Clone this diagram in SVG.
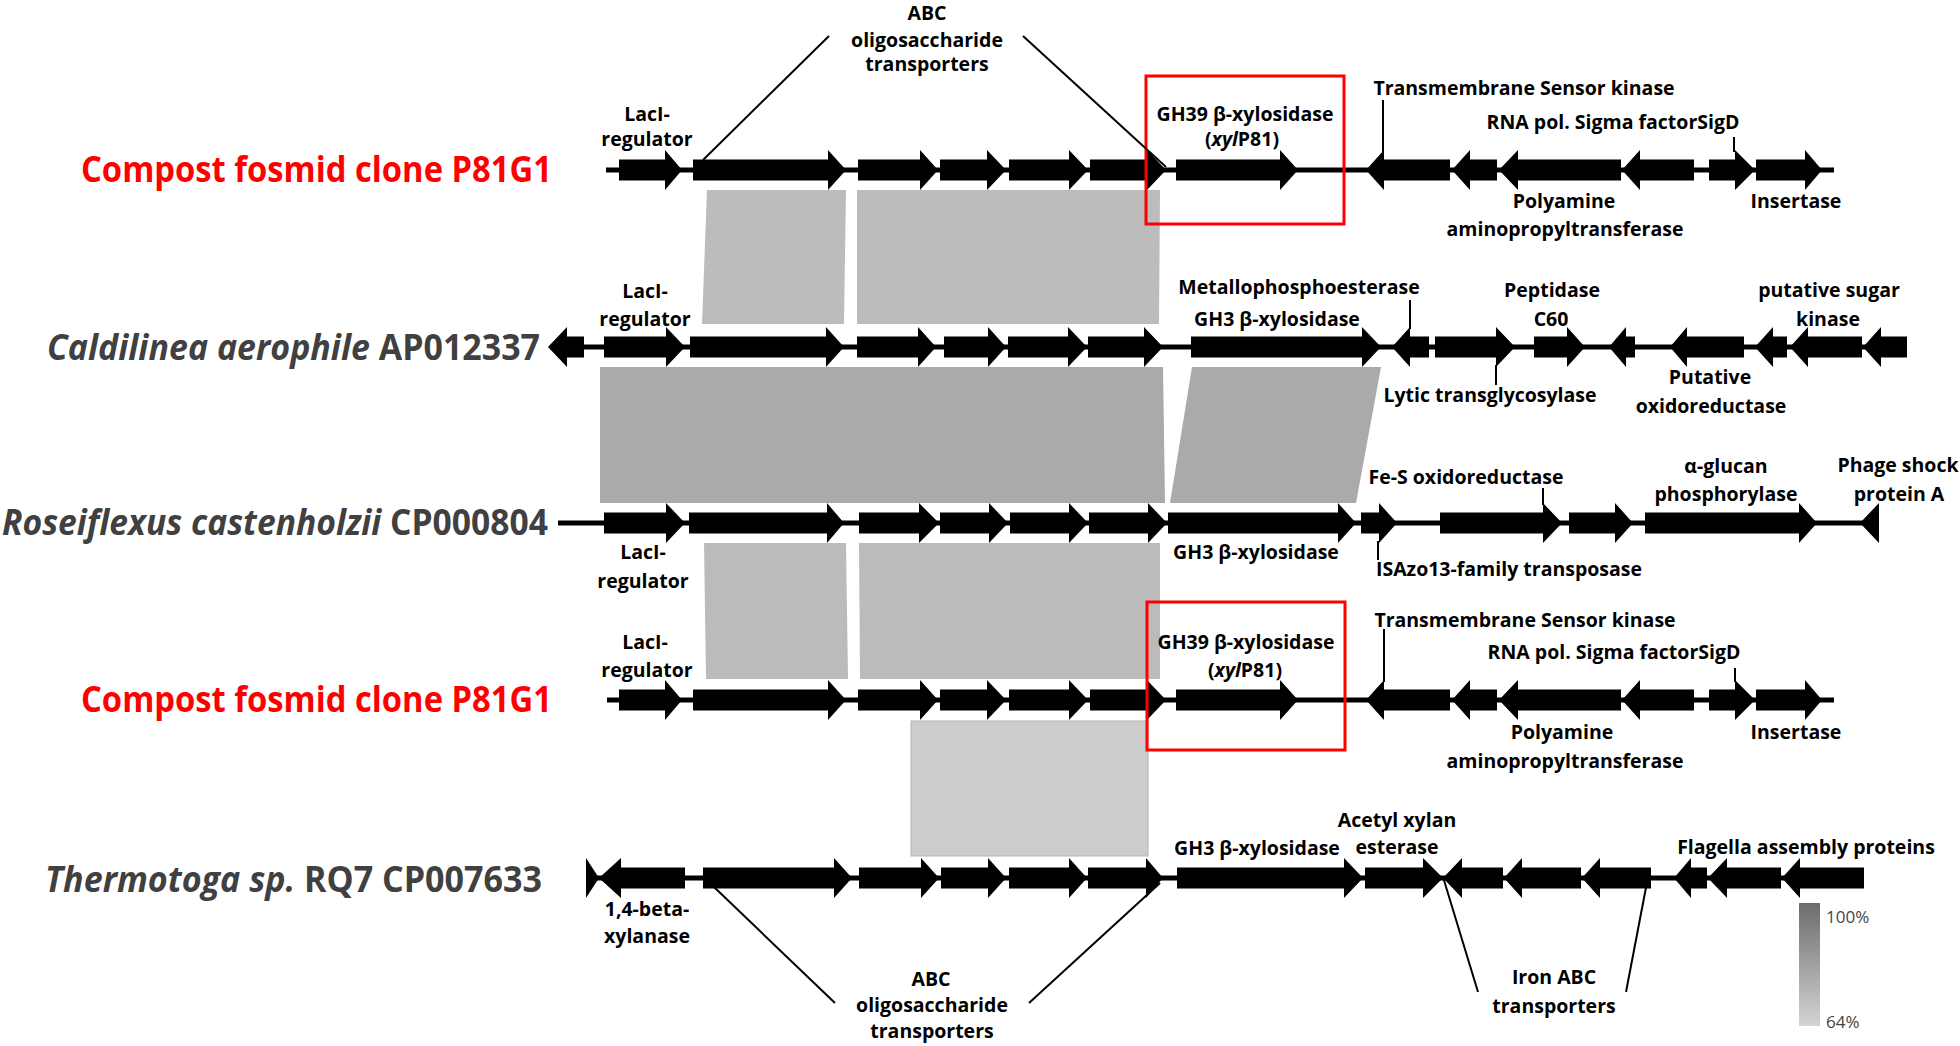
<svg xmlns="http://www.w3.org/2000/svg" width="1960" height="1046" viewBox="0 0 1960 1046">
<defs>
<style>
.g{fill:#000}
.bb{stroke:#000;stroke-width:5;fill:none}
.ptr{stroke:#000;stroke-width:2;fill:none}
.lbl{font-family:'Open Sans','Liberation Sans',sans-serif;font-weight:bold;font-size:19.5px;fill:#000;text-anchor:middle}
.sp{font-family:'Open Sans','Liberation Sans',sans-serif;font-weight:bold;font-size:35px;text-anchor:end}
.red{fill:#ff0000}
.dark{fill:#404040}
.box{fill:none;stroke:#ff0000;stroke-width:3}
.pct{font-family:'Open Sans','Liberation Sans',sans-serif;font-size:17px;fill:#444}
</style>
<linearGradient id="scale" x1="0" y1="0" x2="0" y2="1">
<stop offset="0" stop-color="#6c6c6c"/>
<stop offset="1" stop-color="#d4d4d4"/>
</linearGradient>
</defs>
<rect width="1960" height="1046" fill="#fff"/>

<g id="homology">
<polygon points="707,190 846,190 844,324 702,324" fill="#bcbcbc"/>
<polygon points="857,190 1160,190 1159,324 857,324" fill="#bcbcbc"/>
<polygon points="600,367 1163,367 1165,503 600,503" fill="#aaaaaa"/>
<polygon points="1192,367 1381,367 1356,503 1170,503" fill="#aaaaaa"/>
<polygon points="704,543 846,543 848,679 706,679" fill="#bbbbbb"/>
<polygon points="859,543 1160,543 1160,679 860,679" fill="#bbbbbb"/>
<rect x="911" y="721" width="237" height="135" fill="#cccccc" stroke="#b4b4b4" stroke-width="1"/>
</g>

<g id="track1" transform="translate(0,170)">
<line class="bb" x1="606" y1="0" x2="1834" y2="0"/>
<path class="g" d="M619,-10.5H665V-20L682,0L665,20V10.5H619Z"/>
<path class="g" d="M693,-10.5H828V-20L846,0L828,20V10.5H693Z"/>
<path class="g" d="M858,-10.5H920V-20L938,0L920,20V10.5H858Z"/>
<path class="g" d="M940,-10.5H987V-20L1006,0L987,20V10.5H940Z"/>
<path class="g" d="M1009,-10.5H1069V-20L1088,0L1069,20V10.5H1009Z"/>
<path class="g" d="M1090,-10.5H1147V-20L1166,0L1147,20V10.5H1090Z"/>
<path class="g" d="M1176,-10.5H1280V-20L1298,0L1280,20V10.5H1176Z"/>
<path class="g" d="M1366,0L1384,-20V-10.5H1450V10.5H1384V20Z"/>
<path class="g" d="M1452,0L1470,-20V-10.5H1497V10.5H1470V20Z"/>
<path class="g" d="M1499,0L1518,-20V-10.5H1621V10.5H1518V20Z"/>
<path class="g" d="M1622,0L1640,-20V-10.5H1694V10.5H1640V20Z"/>
<path class="g" d="M1709,-10.5H1735V-20L1755,0L1735,20V10.5H1709Z"/>
<path class="g" d="M1756,-10.5H1805V-20L1822,0L1805,20V10.5H1756Z"/>
</g>

<g id="track2" transform="translate(0,347)">
<line class="bb" x1="550" y1="0" x2="1905" y2="0"/>
<path class="g" d="M548,0L567,-20V-10.5H584V10.5H567V20Z"/>
<path class="g" d="M604,-10.5H666V-20L685,0L666,20V10.5H604Z"/>
<path class="g" d="M690,-10.5H826V-20L844,0L826,20V10.5H690Z"/>
<path class="g" d="M857,-10.5H918V-20L936,0L918,20V10.5H857Z"/>
<path class="g" d="M944,-10.5H988V-20L1006,0L988,20V10.5H944Z"/>
<path class="g" d="M1008,-10.5H1068V-20L1087,0L1068,20V10.5H1008Z"/>
<path class="g" d="M1088,-10.5H1144V-20L1163,0L1144,20V10.5H1088Z"/>
<path class="g" d="M1191,-10.5H1362V-20L1381,0L1362,20V10.5H1191Z"/>
<path class="g" d="M1392,0L1410,-20V-10.5H1429V10.5H1410V20Z"/>
<path class="g" d="M1435,-10.5H1496V-20L1515,0L1496,20V10.5H1435Z"/>
<path class="g" d="M1534,-10.5H1567V-20L1585,0L1567,20V10.5H1534Z"/>
<path class="g" d="M1609,0L1626,-20V-10.5H1635V10.5H1626V20Z"/>
<path class="g" d="M1670,0L1687,-20V-10.5H1744V10.5H1687V20Z"/>
<path class="g" d="M1755,0L1773,-20V-10.5H1787V10.5H1773V20Z"/>
<path class="g" d="M1790,0L1808,-20V-10.5H1862V10.5H1808V20Z"/>
<path class="g" d="M1863,0L1881,-20V-10.5H1907V10.5H1881V20Z"/>
</g>

<g id="track3" transform="translate(0,523)">
<line class="bb" x1="558" y1="0" x2="1878" y2="0"/>
<path class="g" d="M604,-10.5H666V-20L685,0L666,20V10.5H604Z"/>
<path class="g" d="M689,-10.5H827V-20L844,0L827,20V10.5H689Z"/>
<path class="g" d="M859,-10.5H919V-20L939,0L919,20V10.5H859Z"/>
<path class="g" d="M940,-10.5H989V-20L1008,0L989,20V10.5H940Z"/>
<path class="g" d="M1010,-10.5H1069V-20L1088,0L1069,20V10.5H1010Z"/>
<path class="g" d="M1089,-10.5H1148V-20L1167,0L1148,20V10.5H1089Z"/>
<path class="g" d="M1168,-10.5H1338V-20L1356,0L1338,20V10.5H1168Z"/>
<path class="g" d="M1361,-10.5H1379V-20L1397,0L1379,20V10.5H1361Z"/>
<path class="g" d="M1440,-10.5H1543V-20L1562,0L1543,20V10.5H1440Z"/>
<path class="g" d="M1569,-10.5H1615V-20L1633,0L1615,20V10.5H1569Z"/>
<path class="g" d="M1645,-10.5H1799V-20L1817,0L1799,20V10.5H1645Z"/>
<path class="g" d="M1860,0L1879,-20V20Z"/>
</g>

<g id="track4" transform="translate(0,700)">
<line class="bb" x1="607" y1="0" x2="1834" y2="0"/>
<path class="g" d="M619,-10.5H665V-20L682,0L665,20V10.5H619Z"/>
<path class="g" d="M693,-10.5H828V-20L846,0L828,20V10.5H693Z"/>
<path class="g" d="M858,-10.5H920V-20L938,0L920,20V10.5H858Z"/>
<path class="g" d="M940,-10.5H987V-20L1006,0L987,20V10.5H940Z"/>
<path class="g" d="M1009,-10.5H1069V-20L1088,0L1069,20V10.5H1009Z"/>
<path class="g" d="M1090,-10.5H1147V-20L1166,0L1147,20V10.5H1090Z"/>
<path class="g" d="M1176,-10.5H1280V-20L1298,0L1280,20V10.5H1176Z"/>
<path class="g" d="M1366,0L1384,-20V-10.5H1450V10.5H1384V20Z"/>
<path class="g" d="M1452,0L1470,-20V-10.5H1497V10.5H1470V20Z"/>
<path class="g" d="M1499,0L1518,-20V-10.5H1621V10.5H1518V20Z"/>
<path class="g" d="M1622,0L1640,-20V-10.5H1694V10.5H1640V20Z"/>
<path class="g" d="M1709,-10.5H1735V-20L1755,0L1735,20V10.5H1709Z"/>
<path class="g" d="M1756,-10.5H1805V-20L1822,0L1805,20V10.5H1756Z"/>
</g>

<g id="track5" transform="translate(0,878)">
<line class="bb" x1="590" y1="0" x2="1862" y2="0"/>
<path class="g" d="M586,-20V20L599,0Z"/>
<path class="g" d="M599,0L621,-20V-10.5H685V10.5H621V20Z"/>
<path class="g" d="M703,-10.5H834V-20L852,0L834,20V10.5H703Z"/>
<path class="g" d="M859,-10.5H921V-20L939,0L921,20V10.5H859Z"/>
<path class="g" d="M941,-10.5H988V-20L1006,0L988,20V10.5H941Z"/>
<path class="g" d="M1009,-10.5H1069V-20L1087,0L1069,20V10.5H1009Z"/>
<path class="g" d="M1088,-10.5H1146V-20L1163,0L1146,20V10.5H1088Z"/>
<path class="g" d="M1177,-10.5H1344V-20L1363,0L1344,20V10.5H1177Z"/>
<path class="g" d="M1365,-10.5H1423V-20L1443,0L1423,20V10.5H1365Z"/>
<path class="g" d="M1443,0L1462,-20V-10.5H1503V10.5H1462V20Z"/>
<path class="g" d="M1504,0L1522,-20V-10.5H1581V10.5H1522V20Z"/>
<path class="g" d="M1582,0L1600,-20V-10.5H1651V10.5H1600V20Z"/>
<path class="g" d="M1674,0L1691,-20V-10.5H1707V10.5H1691V20Z"/>
<path class="g" d="M1708,0L1727,-20V-10.5H1781V10.5H1727V20Z"/>
<path class="g" d="M1782,0L1800,-20V-10.5H1864V10.5H1800V20Z"/>
</g>

<g id="highlights">
<rect class="box" x="1146" y="76" width="198" height="148"/>
<rect class="box" x="1147" y="602" width="198" height="148"/>
</g>

<g id="connectors">
<line class="ptr" x1="703" y1="160" x2="829" y2="36"/>
<line class="ptr" x1="1023" y1="36" x2="1166" y2="167"/>
<line class="ptr" x1="1383" y1="100" x2="1383" y2="152"/>
<line class="ptr" x1="1734" y1="137" x2="1734" y2="152"/>
<line class="ptr" x1="1410" y1="300" x2="1410" y2="329"/>
<line class="ptr" x1="1496" y1="365" x2="1496" y2="385"/>
<line class="ptr" x1="1543" y1="488" x2="1543" y2="505"/>
<line class="ptr" x1="1378" y1="541" x2="1378" y2="560"/>
<line class="ptr" x1="1384" y1="629" x2="1384" y2="682"/>
<line class="ptr" x1="1735" y1="668" x2="1735" y2="682"/>
<line class="ptr" x1="714" y1="887" x2="835" y2="1003"/>
<line class="ptr" x1="1029" y1="1003" x2="1160" y2="883"/>
<line class="ptr" x1="1443" y1="877" x2="1478" y2="992"/>
<line class="ptr" x1="1648" y1="877" x2="1626" y2="992"/>
</g>

<g id="species">
<text class="sp red" x="552" y="182" textLength="471" lengthAdjust="spacingAndGlyphs">Compost fosmid clone P81G1</text>
<text class="sp dark" x="540" y="360" textLength="493" lengthAdjust="spacingAndGlyphs"><tspan font-style="italic">Caldilinea aerophile</tspan> AP012337</text>
<text class="sp dark" x="548" y="535" textLength="546" lengthAdjust="spacingAndGlyphs"><tspan font-style="italic">Roseiflexus castenholzii</tspan> CP000804</text>
<text class="sp red" x="552" y="712" textLength="471" lengthAdjust="spacingAndGlyphs">Compost fosmid clone P81G1</text>
<text class="sp dark" x="542" y="892" textLength="497" lengthAdjust="spacingAndGlyphs"><tspan font-style="italic">Thermotoga sp.</tspan> RQ7 CP007633</text>
</g>

<g id="labels1">
<text class="lbl" x="647" y="121">LacI-</text>
<text class="lbl" x="647" y="146">regulator</text>
<text class="lbl" x="927" y="20">ABC</text>
<text class="lbl" x="927" y="47">oligosaccharide</text>
<text class="lbl" x="927" y="71">transporters</text>
<text class="lbl" x="1245" y="121">GH39 β-xylosidase</text>
<text class="lbl" x="1242" y="146">(<tspan font-style="italic">xyl</tspan>P81)</text>
<text class="lbl" x="1524" y="95">Transmembrane Sensor kinase</text>
<text class="lbl" x="1613" y="129">RNA pol. Sigma factorSigD</text>
<text class="lbl" x="1564" y="208">Polyamine</text>
<text class="lbl" x="1565" y="236">aminopropyltransferase</text>
<text class="lbl" x="1796" y="208">Insertase</text>
</g>

<g id="labels2">
<text class="lbl" x="645" y="298">LacI-</text>
<text class="lbl" x="645" y="326">regulator</text>
<text class="lbl" x="1299" y="294">Metallophosphoesterase</text>
<text class="lbl" x="1277" y="326">GH3 β-xylosidase</text>
<text class="lbl" x="1552" y="297">Peptidase</text>
<text class="lbl" x="1551" y="326">C60</text>
<text class="lbl" x="1829" y="297">putative sugar</text>
<text class="lbl" x="1828" y="326">kinase</text>
<text class="lbl" x="1490" y="402">Lytic transglycosylase</text>
<text class="lbl" x="1710" y="384">Putative</text>
<text class="lbl" x="1711" y="413">oxidoreductase</text>
</g>

<g id="labels3">
<text class="lbl" x="1466" y="484">Fe-S oxidoreductase</text>
<text class="lbl" x="1726" y="473">α-glucan</text>
<text class="lbl" x="1726" y="501">phosphorylase</text>
<text class="lbl" x="1898" y="472">Phage shock</text>
<text class="lbl" x="1899" y="501">protein A</text>
<text class="lbl" x="643" y="559">LacI-</text>
<text class="lbl" x="643" y="588">regulator</text>
<text class="lbl" x="1256" y="559">GH3 β-xylosidase</text>
<text class="lbl" x="1509" y="576">ISAzo13-family transposase</text>
</g>

<g id="labels4">
<text class="lbl" x="645" y="649">LacI-</text>
<text class="lbl" x="647" y="677">regulator</text>
<text class="lbl" x="1246" y="649">GH39 β-xylosidase</text>
<text class="lbl" x="1245" y="677">(<tspan font-style="italic">xyl</tspan>P81)</text>
<text class="lbl" x="1525" y="627">Transmembrane Sensor kinase</text>
<text class="lbl" x="1614" y="659">RNA pol. Sigma factorSigD</text>
<text class="lbl" x="1562" y="739">Polyamine</text>
<text class="lbl" x="1565" y="768">aminopropyltransferase</text>
<text class="lbl" x="1796" y="739">Insertase</text>
</g>

<g id="labels5">
<text class="lbl" x="1257" y="855">GH3 β-xylosidase</text>
<text class="lbl" x="1397" y="827">Acetyl xylan</text>
<text class="lbl" x="1397" y="854">esterase</text>
<text class="lbl" x="1806" y="854">Flagella assembly proteins</text>
<text class="lbl" x="647" y="916">1,4-beta-</text>
<text class="lbl" x="647" y="943">xylanase</text>
<text class="lbl" x="931" y="986">ABC</text>
<text class="lbl" x="932" y="1012">oligosaccharide</text>
<text class="lbl" x="932" y="1038">transporters</text>
<text class="lbl" x="1554" y="984">Iron ABC</text>
<text class="lbl" x="1554" y="1013">transporters</text>
</g>

<g id="legend">
<rect x="1799" y="903" width="21" height="123" fill="url(#scale)"/>
<text class="pct" x="1826" y="923">100%</text>
<text class="pct" x="1826" y="1028">64%</text>
</g>
</svg>
